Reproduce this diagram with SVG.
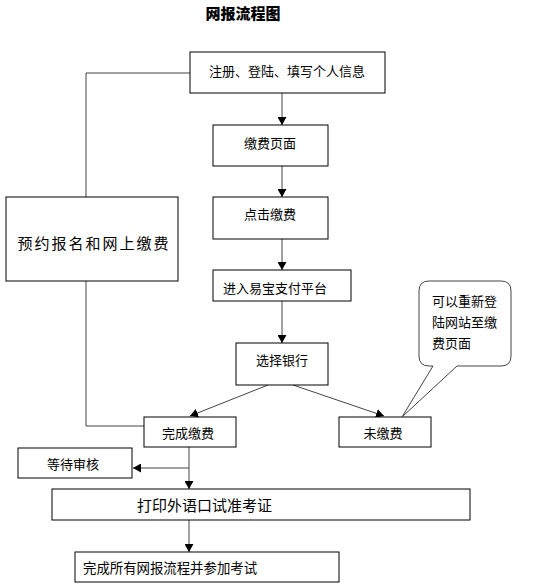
<svg xmlns="http://www.w3.org/2000/svg" width="546" height="588" viewBox="0 0 546 588">
<style>
.box{fill:#fff;stroke:#000;stroke-width:1}
.t{font-family:"Noto Sans CJK SC","Liberation Sans",sans-serif;font-size:13px;fill:#000;text-anchor:middle;dominant-baseline:central}
.c{fill:none;stroke:#444;stroke-width:1}
</style>
<defs>
<marker id="ah" markerUnits="userSpaceOnUse" markerWidth="8" markerHeight="9" refX="8" refY="4.5" orient="auto">
<path d="M0,0 L8,4.5 L0,9 Z" fill="#000"/>
</marker>
</defs>
<rect width="546" height="588" fill="#fff"/>
<text x="243" y="12" class="t" style="font-weight:900;font-size:15px">网报流程图</text>
<g id="connectors">
<polyline class="c" points="190,73 86,73 86,197"/>
<polyline class="c" points="86,281 86,426 144,426"/>
<line class="c" x1="282" y1="93" x2="282" y2="125" marker-end="url(#ah)"/>
<line class="c" x1="282" y1="166" x2="282" y2="197" marker-end="url(#ah)"/>
<line class="c" x1="282" y1="239" x2="282" y2="270" marker-end="url(#ah)"/>
<line class="c" x1="282" y1="301" x2="282" y2="343" marker-end="url(#ah)"/>
<line class="c" x1="268" y1="385" x2="190" y2="416" marker-end="url(#ah)"/>
<line class="c" x1="293" y1="385" x2="384" y2="416" marker-end="url(#ah)"/>
<line class="c" x1="189" y1="447" x2="189" y2="489" marker-end="url(#ah)"/>
<line class="c" x1="189" y1="468" x2="133" y2="468" marker-end="url(#ah)"/>
<line class="c" x1="189" y1="520" x2="189" y2="552" marker-end="url(#ah)"/>
</g>
<g id="n1"><rect class="box" x="190" y="52" width="195" height="41"/><text class="t" x="287" y="70">注册、登陆、填写个人信息</text></g>
<g id="n2"><rect class="box" x="213" y="125" width="115" height="41"/><text class="t" x="270" y="142">缴费页面</text></g>
<g id="n3"><rect class="box" x="213" y="197" width="115" height="42"/><text class="t" x="270" y="213">点击缴费</text></g>
<g id="n4"><rect class="box" x="6" y="197" width="172" height="84"/><text class="t" x="94" y="242" style="font-size:15px;letter-spacing:2px">预约报名和网上缴费</text></g>
<g id="n5"><rect class="box" x="213" y="270" width="138" height="31"/><text class="t" x="275" y="287">进入易宝支付平台</text></g>
<g id="n6"><rect class="box" x="236" y="343" width="92" height="42"/><text class="t" x="282" y="359">选择银行</text></g>
<g id="n7"><rect class="box" x="144" y="417" width="92" height="30"/><text class="t" x="188" y="432">完成缴费</text></g>
<g id="n8"><rect class="box" x="339" y="417" width="92" height="30"/><text class="t" x="383" y="432">未缴费</text></g>
<g id="n9">
<path d="M429,281 H501 Q511,281 511,291 V356 Q511,366 501,366 H457 L402,417 L433,366 H429 Q419,366 419,356 V291 Q419,281 429,281 Z" fill="#fff" stroke="#444" stroke-width="1"/>
<text class="t" style="text-anchor:start" x="432" y="300">可以重新登</text>
<text class="t" style="text-anchor:start" x="432" y="321">陆网站至缴</text>
<text class="t" style="text-anchor:start" x="432" y="342">费页面</text>
</g>
<g id="n10"><rect class="box" x="18" y="448" width="114" height="30"/><text class="t" x="73" y="463">等待审核</text></g>
<g id="n11"><rect class="box" x="52" y="489" width="418" height="31"/><text class="t" style="text-anchor:start;font-size:15px" x="137" y="504">打印外语口试准考证</text></g>
<g id="n12"><rect class="box" x="75" y="552" width="264" height="30"/><text class="t" style="text-anchor:start;font-size:13.4px" x="83" y="567">完成所有网报流程并参加考试</text></g>
</svg>
